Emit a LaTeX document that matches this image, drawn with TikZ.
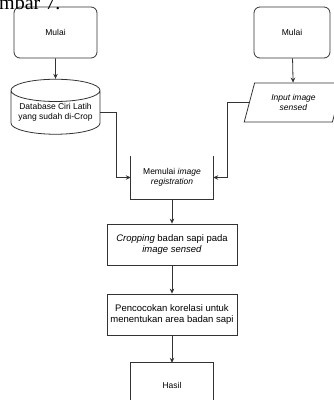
\documentclass[tikz,border=0pt]{standalone}
\usepackage{fontspec}
\setmainfont{Liberation Sans}
\newfontfamily\judulfont{Liberation Serif}
\usetikzlibrary{shapes.geometric,arrows.meta}

\begin{document}
\begin{tikzpicture}[x=1pt,y=-1pt,>={Stealth[length=5pt,width=4.5pt]},
    garis/.style={draw=black!80,line width=0.8pt},
    kecil/.style={font=\fontsize{8.5}{10}\selectfont,align=center},
    besar/.style={font=\fontsize{9.5}{10.7}\selectfont,align=center}]
    \useasboundingbox (0,0) rectangle (334,400);
    \begin{scope}[every node/.style={garis,kecil,inner sep=0pt}]
        \node[rounded corners=6pt,minimum width=83pt,minimum height=51pt] (mulai1) at (55.5,32.5) {Mulai};
        \node[rounded corners=6pt,minimum width=76pt,minimum height=51pt] (mulai2) at (292,32.5) {Mulai};
        \node[cylinder,shape border rotate=90,aspect=0.3,minimum width=89pt,minimum height=55pt] (db) at (55.5,112.5) {Database Ciri Latih\\yang sudah di-Crop};
        \node[trapezium,trapezium left angle=70,trapezium right angle=110,trapezium stretches=true,minimum width=99pt,minimum height=39pt] (input) at (293.5,102.5) {\textit{Input image}\\\textit{sensed}};
        \node[besar,minimum width=130pt,minimum height=41pt] (crop) at (172,244.5) {\textit{Cropping} badan sapi pada\\\textit{image sensed}};
        \node[besar,minimum width=130pt,minimum height=41pt] (cocok) at (172,314.5) {Pencocokan korelasi untuk\\menentukan area badan sapi};
    \end{scope}
    \node[kecil,minimum width=82pt,minimum height=43pt,inner sep=0pt] (reg) at (172,177.5) {Memulai \textit{image}\\\textit{registration}};
    \node[kecil,minimum width=82pt,minimum height=44pt,inner sep=0pt] (hasil) at (172,385) {Hasil};
    \node[anchor=base west,inner sep=0pt,font=\judulfont\fontsize{20}{20}\selectfont] (judul) at (-1,9) {mbar 7.};
    % kotak terbuka
    \draw[garis] (reg.north west) -- (reg.south west) -- (reg.south east) -- (reg.north east);
    \draw[garis] (hasil.south west) -- (hasil.north west) -- (hasil.north east) -- (hasil.south east);
    % panah
    \draw[garis] (mulai1) edge [->] (db);
    \draw[garis] (mulai2) edge [->] (input);
    \draw[garis,->] (db.east) -- ++(16,0) |- (reg.west);
    \draw[garis,->] (input.west) -- ++(-22,0) |- (reg.east);
    \draw[garis] (reg) edge [->] (crop);
    \draw[garis] (crop) edge [->] (cocok);
    \draw[garis] (cocok) edge [->] (hasil);
\end{tikzpicture}
\end{document}
